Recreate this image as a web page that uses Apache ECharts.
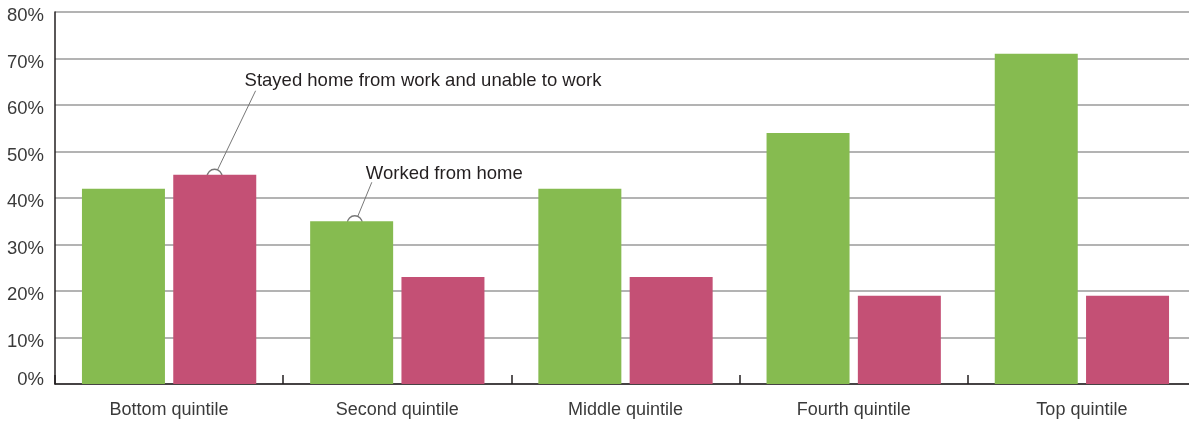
<!DOCTYPE html>
<html><head><meta charset="utf-8">
<script src="https://cdn.jsdelivr.net/npm/echarts@6/dist/echarts.min.js"></script>
<style>html,body{margin:0;padding:0;background:#fff}#c{width:1189px;height:425px}</style>
</head><body><div id="c"></div>
<script>
const categories = ['Bottom quintile', 'Second quintile', 'Middle quintile', 'Fourth quintile', 'Top quintile'];
const workedFromHome = [42, 35, 42, 54, 71];
const stayedHomeUnable = [45, 23, 23, 19, 19];
const yTicks = [0, 10, 20, 30, 40, 50, 60, 70, 80];
const seriesNames = ['Worked from home', 'Stayed home from work and unable to work'];

const labelFont = "'Liberation Sans', Arial, sans-serif";
const chart = echarts.init(document.getElementById('c'), null, {renderer: 'canvas'});
chart.setOption({
  animation: false,
  grid: {left: 55, top: 12, bottom: 41, width: 1141, containLabel: false, outerBoundsMode: 'none'},
  xAxis: {
    type: 'category', data: categories,
    axisLine: {lineStyle: {color: '#231f20', width: 1.5}},
    axisTick: {show: true, inside: true, length: 9, lineStyle: {color: '#231f20', width: 1.5}},
    axisLabel: {margin: 17, color: '#3a3a3a', fontSize: 18, fontFamily: labelFont}
  },
  yAxis: {
    type: 'value', min: yTicks[0], max: yTicks[yTicks.length - 1], interval: 10,
    axisLine: {show: true, lineStyle: {color: '#231f20', width: 1.5}},
    axisTick: {show: false},
    axisLabel: {
      margin: 11, color: '#3a3a3a', fontSize: 18.5, fontFamily: labelFont,
      formatter: function (v) { return v === 0 ? '{z|' + v + '%}' : '{n|' + v + '%}'; },
      rich: {
        n: {fontSize: 18.5, fontFamily: labelFont, color: '#3a3a3a', padding: [8, 0, 0, 0]},
        z: {fontSize: 18.5, fontFamily: labelFont, color: '#3a3a3a', padding: [0, 0, 8, 0]}
      }
    },
    splitLine: {lineStyle: {color: '#9a9a9a', width: 1.5}}
  },
  series: [
    {name: seriesNames[0], type: 'bar', data: workedFromHome, barWidth: 83, barGap: '10%', itemStyle: {color: '#86bb50'}},
    {name: seriesNames[1], type: 'bar', data: stayedHomeUnable, barWidth: 83, barGap: '10%', itemStyle: {color: '#c45075'}}
  ]
});

// annotations anchored at bar tops
const off = 45.5;
const p1 = chart.convertToPixel({gridIndex: 0}, [0, stayedHomeUnable[0]]);
const a1 = [p1[0] + off, p1[1] + 2];
const p2 = chart.convertToPixel({gridIndex: 0}, [1, workedFromHome[1]]);
const a2 = [p2[0] - off + 3, p2[1] + 2];
const txtFont = {fontSize: 18.5, fontFamily: "'Liberation Sans', Arial, sans-serif", fill: '#231f20'};
chart.setOption({
  graphic: [
    {type: 'line', shape: {x1: a1[0] + 3, y1: a1[1] - 7, x2: a1[0] + 41, y2: a1[1] - 86}, style: {stroke: '#777', lineWidth: 1}},
    {type: 'circle', shape: {cx: a1[0], cy: a1[1], r: 7.5}, style: {fill: 'none', stroke: '#777', lineWidth: 1.3}},
    {type: 'text', x: a1[0] + 30, y: a1[1] - 96, style: Object.assign({text: seriesNames[1], verticalAlign: 'middle'}, txtFont)},
    {type: 'line', shape: {x1: a2[0] + 3, y1: a2[1] - 7, x2: a2[0] + 17, y2: a2[1] - 41}, style: {stroke: '#777', lineWidth: 1}},
    {type: 'circle', shape: {cx: a2[0], cy: a2[1], r: 7.5}, style: {fill: 'none', stroke: '#777', lineWidth: 1.3}},
    {type: 'text', x: a2[0] + 11, y: a2[1] - 49, style: Object.assign({text: seriesNames[0], verticalAlign: 'middle'}, txtFont)}
  ]
});
</script></body></html>
